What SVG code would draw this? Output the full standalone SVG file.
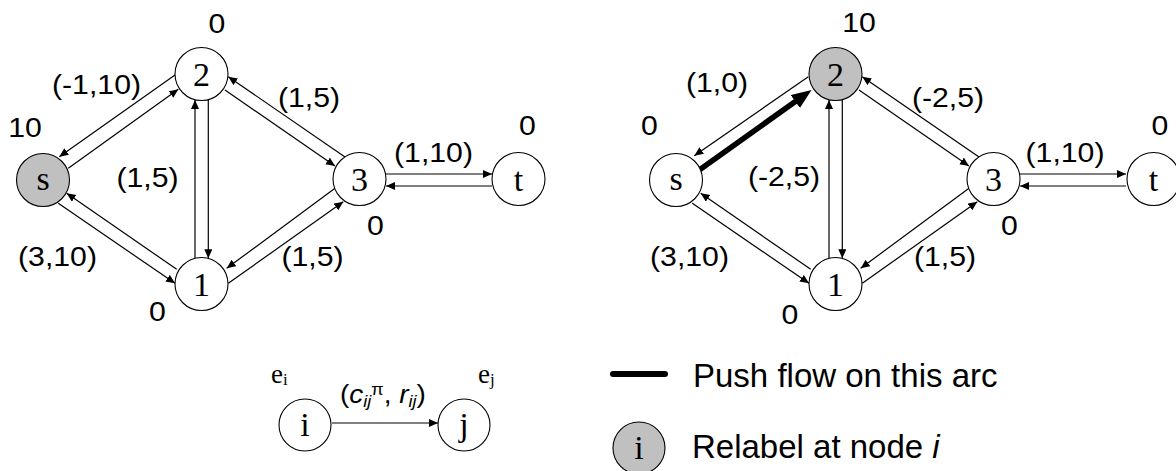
<svg xmlns="http://www.w3.org/2000/svg" width="1176" height="471" viewBox="0 0 1176 471">
<defs>
<style>
.node circle{fill:#fff;stroke:#000;stroke-width:1.1}
.node.hl circle{fill:#c0c0c0}
.nl{font-family:"Liberation Serif","Times New Roman",serif;font-size:34px;text-anchor:middle;fill:#000}
.lbl{font-family:"Liberation Sans",Arial,sans-serif;font-size:27px;text-anchor:middle;fill:#000}
.leg{font-family:"Liberation Sans",Arial,sans-serif;font-size:33px;fill:#000}
.ser{font-family:"Liberation Serif","Times New Roman",serif;fill:#000}
.edge{stroke:#000;stroke-width:1.2;fill:none;marker-end:url(#ah)}
.thick{stroke:#000;stroke-width:5.5;fill:none;marker-end:url(#ahb)}
</style>
<marker id="ah" markerUnits="userSpaceOnUse" markerWidth="10" markerHeight="9" refX="9" refY="4" orient="auto"><path d="M0,0 L9,4 L0,8 z" fill="#000"/></marker>
<marker id="ahb" markerUnits="userSpaceOnUse" markerWidth="22" markerHeight="18" refX="10" refY="8" orient="auto"><path d="M0,0 L20,8 L0,16 z" fill="#000"/></marker>
</defs>
<rect width="1176" height="471" fill="#fff"/>

<g id="connectors">
<path class="edge" d="M175,75 L59.3,156.7"/>
<path class="edge" d="M68.3,168.3 L178.3,89.3"/>
<path class="edge" d="M195,258.3 L195,100"/>
<path class="edge" d="M208.3,99.8 L208.3,258.3"/>
<path class="edge" d="M345,157 L228.3,76.7"/>
<path class="edge" d="M225,90 L335,166"/>
<path class="edge" d="M335,188.3 L226.7,268.3"/>
<path class="edge" d="M228.3,283.3 L343.3,201.7"/>
<path class="edge" d="M176.7,269.3 L66.7,193.3"/>
<path class="edge" d="M58.3,203.3 L175,283.3"/>
<path class="edge" d="M386,174 L492,174"/>
<path class="edge" d="M492,186 L386,186"/>

<path class="edge" d="M808.3,76.7 L694.3,155.7"/>
<path class="thick" d="M699.3,170 L803.4,95.7"/>
<path class="edge" d="M829,258.3 L829,100"/>
<path class="edge" d="M842.3,99.8 L842.3,258.3"/>
<path class="edge" d="M979,157 L862.3,76.7"/>
<path class="edge" d="M859,90 L969,166"/>
<path class="edge" d="M969,188.3 L860.7,268.3"/>
<path class="edge" d="M862.3,283.3 L977.3,201.7"/>
<path class="edge" d="M810.7,269.3 L700.7,193.3"/>
<path class="edge" d="M692.3,203.3 L809,283.3"/>
<path class="edge" d="M1020,174 L1126,174"/>
<path class="edge" d="M1126,186 L1020,186"/>

<path class="edge" d="M332,423 L438,423"/>
<path d="M613,374 L665,374" stroke="#000" stroke-width="6" stroke-linecap="round"/>
</g>

<g id="nodeL_s" class="node hl"><circle cx="43" cy="180" r="26.5"/><text class="nl" x="43" y="190">s</text></g>
<g id="nodeL_2" class="node"><circle cx="201.5" cy="74" r="26.5"/><text class="nl" x="201.5" y="86">2</text></g>
<g id="nodeL_1" class="node"><circle cx="201.5" cy="284" r="26.5"/><text class="nl" x="201.5" y="296">1</text></g>
<g id="nodeL_3" class="node"><circle cx="359.5" cy="179" r="26.5"/><text class="nl" x="359.5" y="191">3</text></g>
<g id="nodeL_t" class="node"><circle cx="518.5" cy="179" r="26.5"/><text class="nl" x="518.5" y="191">t</text></g>

<g id="nodeR_s" class="node"><circle cx="676" cy="180" r="26.5"/><text class="nl" x="676" y="190">s</text></g>
<g id="nodeR_2" class="node hl"><circle cx="835.5" cy="74" r="26.5"/><text class="nl" x="835.5" y="86">2</text></g>
<g id="nodeR_1" class="node"><circle cx="835.5" cy="284" r="26.5"/><text class="nl" x="835.5" y="296">1</text></g>
<g id="nodeR_3" class="node"><circle cx="993.5" cy="179" r="26.5"/><text class="nl" x="993.5" y="191">3</text></g>
<g id="nodeR_t" class="node"><circle cx="1153.5" cy="179" r="26.5"/><text class="nl" x="1153.5" y="191">t</text></g>

<g id="labels">
<text class="lbl" transform="translate(217 33) scale(1.12 1)">0</text>
<text class="lbl" transform="translate(96.5 94) scale(1.12 1)">(-1,10)</text>
<text class="lbl" transform="translate(25 137) scale(1.12 1)">10</text>
<text class="lbl" transform="translate(147.5 187) scale(1.12 1)">(1,5)</text>
<text class="lbl" transform="translate(309 107) scale(1.12 1)">(1,5)</text>
<text class="lbl" transform="translate(433.5 162) scale(1.12 1)">(1,10)</text>
<text class="lbl" transform="translate(527.5 135) scale(1.12 1)">0</text>
<text class="lbl" transform="translate(375.5 235) scale(1.12 1)">0</text>
<text class="lbl" transform="translate(312.5 266) scale(1.12 1)">(1,5)</text>
<text class="lbl" transform="translate(57.5 266) scale(1.12 1)">(3,10)</text>
<text class="lbl" transform="translate(157.5 321) scale(1.12 1)">0</text>

<text class="lbl" transform="translate(859 32) scale(1.12 1)">10</text>
<text class="lbl" transform="translate(717 92) scale(1.12 1)">(1,0)</text>
<text class="lbl" transform="translate(649.5 135) scale(1.12 1)">0</text>
<text class="lbl" transform="translate(784 186) scale(1.12 1)">(-2,5)</text>
<text class="lbl" transform="translate(948 107) scale(1.12 1)">(-2,5)</text>
<text class="lbl" transform="translate(1065 162) scale(1.12 1)">(1,10)</text>
<text class="lbl" transform="translate(1160 135) scale(1.12 1)">0</text>
<text class="lbl" transform="translate(1009.5 235) scale(1.12 1)">0</text>
<text class="lbl" transform="translate(945 266) scale(1.12 1)">(1,5)</text>
<text class="lbl" transform="translate(689.5 266) scale(1.12 1)">(3,10)</text>
<text class="lbl" transform="translate(790 324) scale(1.12 1)">0</text>
</g>

<g id="legend">
<g id="leg_i" class="node"><circle cx="305" cy="425" r="26"/><text class="nl" x="305" y="436">i</text></g>
<g id="leg_j" class="node"><circle cx="464" cy="425" r="26"/><text class="nl" x="464" y="436">j</text></g>
<text class="ser" x="271" y="383" font-size="27">e<tspan font-size="17" dy="2">i</tspan></text>
<text class="ser" x="478" y="383" font-size="27">e<tspan font-size="17" dy="2">j</tspan></text>
<text class="lbl" style="text-anchor:start;font-size:25px" transform="translate(340 403) scale(1.12 1)">(<tspan font-style="italic">c</tspan><tspan font-style="italic" font-size="16" dy="4">ij</tspan><tspan font-size="16" dy="-12">π</tspan><tspan dy="8">, </tspan><tspan font-style="italic">r</tspan><tspan font-style="italic" font-size="16" dy="4">ij</tspan><tspan dy="-4">)</tspan></text>
<text class="leg" x="693" y="387">Push flow on this arc</text>
<g id="leg_relabel" class="node hl"><circle cx="639" cy="448" r="26"/><text class="nl" x="639" y="459">i</text></g>
<text class="leg" x="692" y="458">Relabel at node <tspan font-style="italic">i</tspan></text>
</g>
</svg>
